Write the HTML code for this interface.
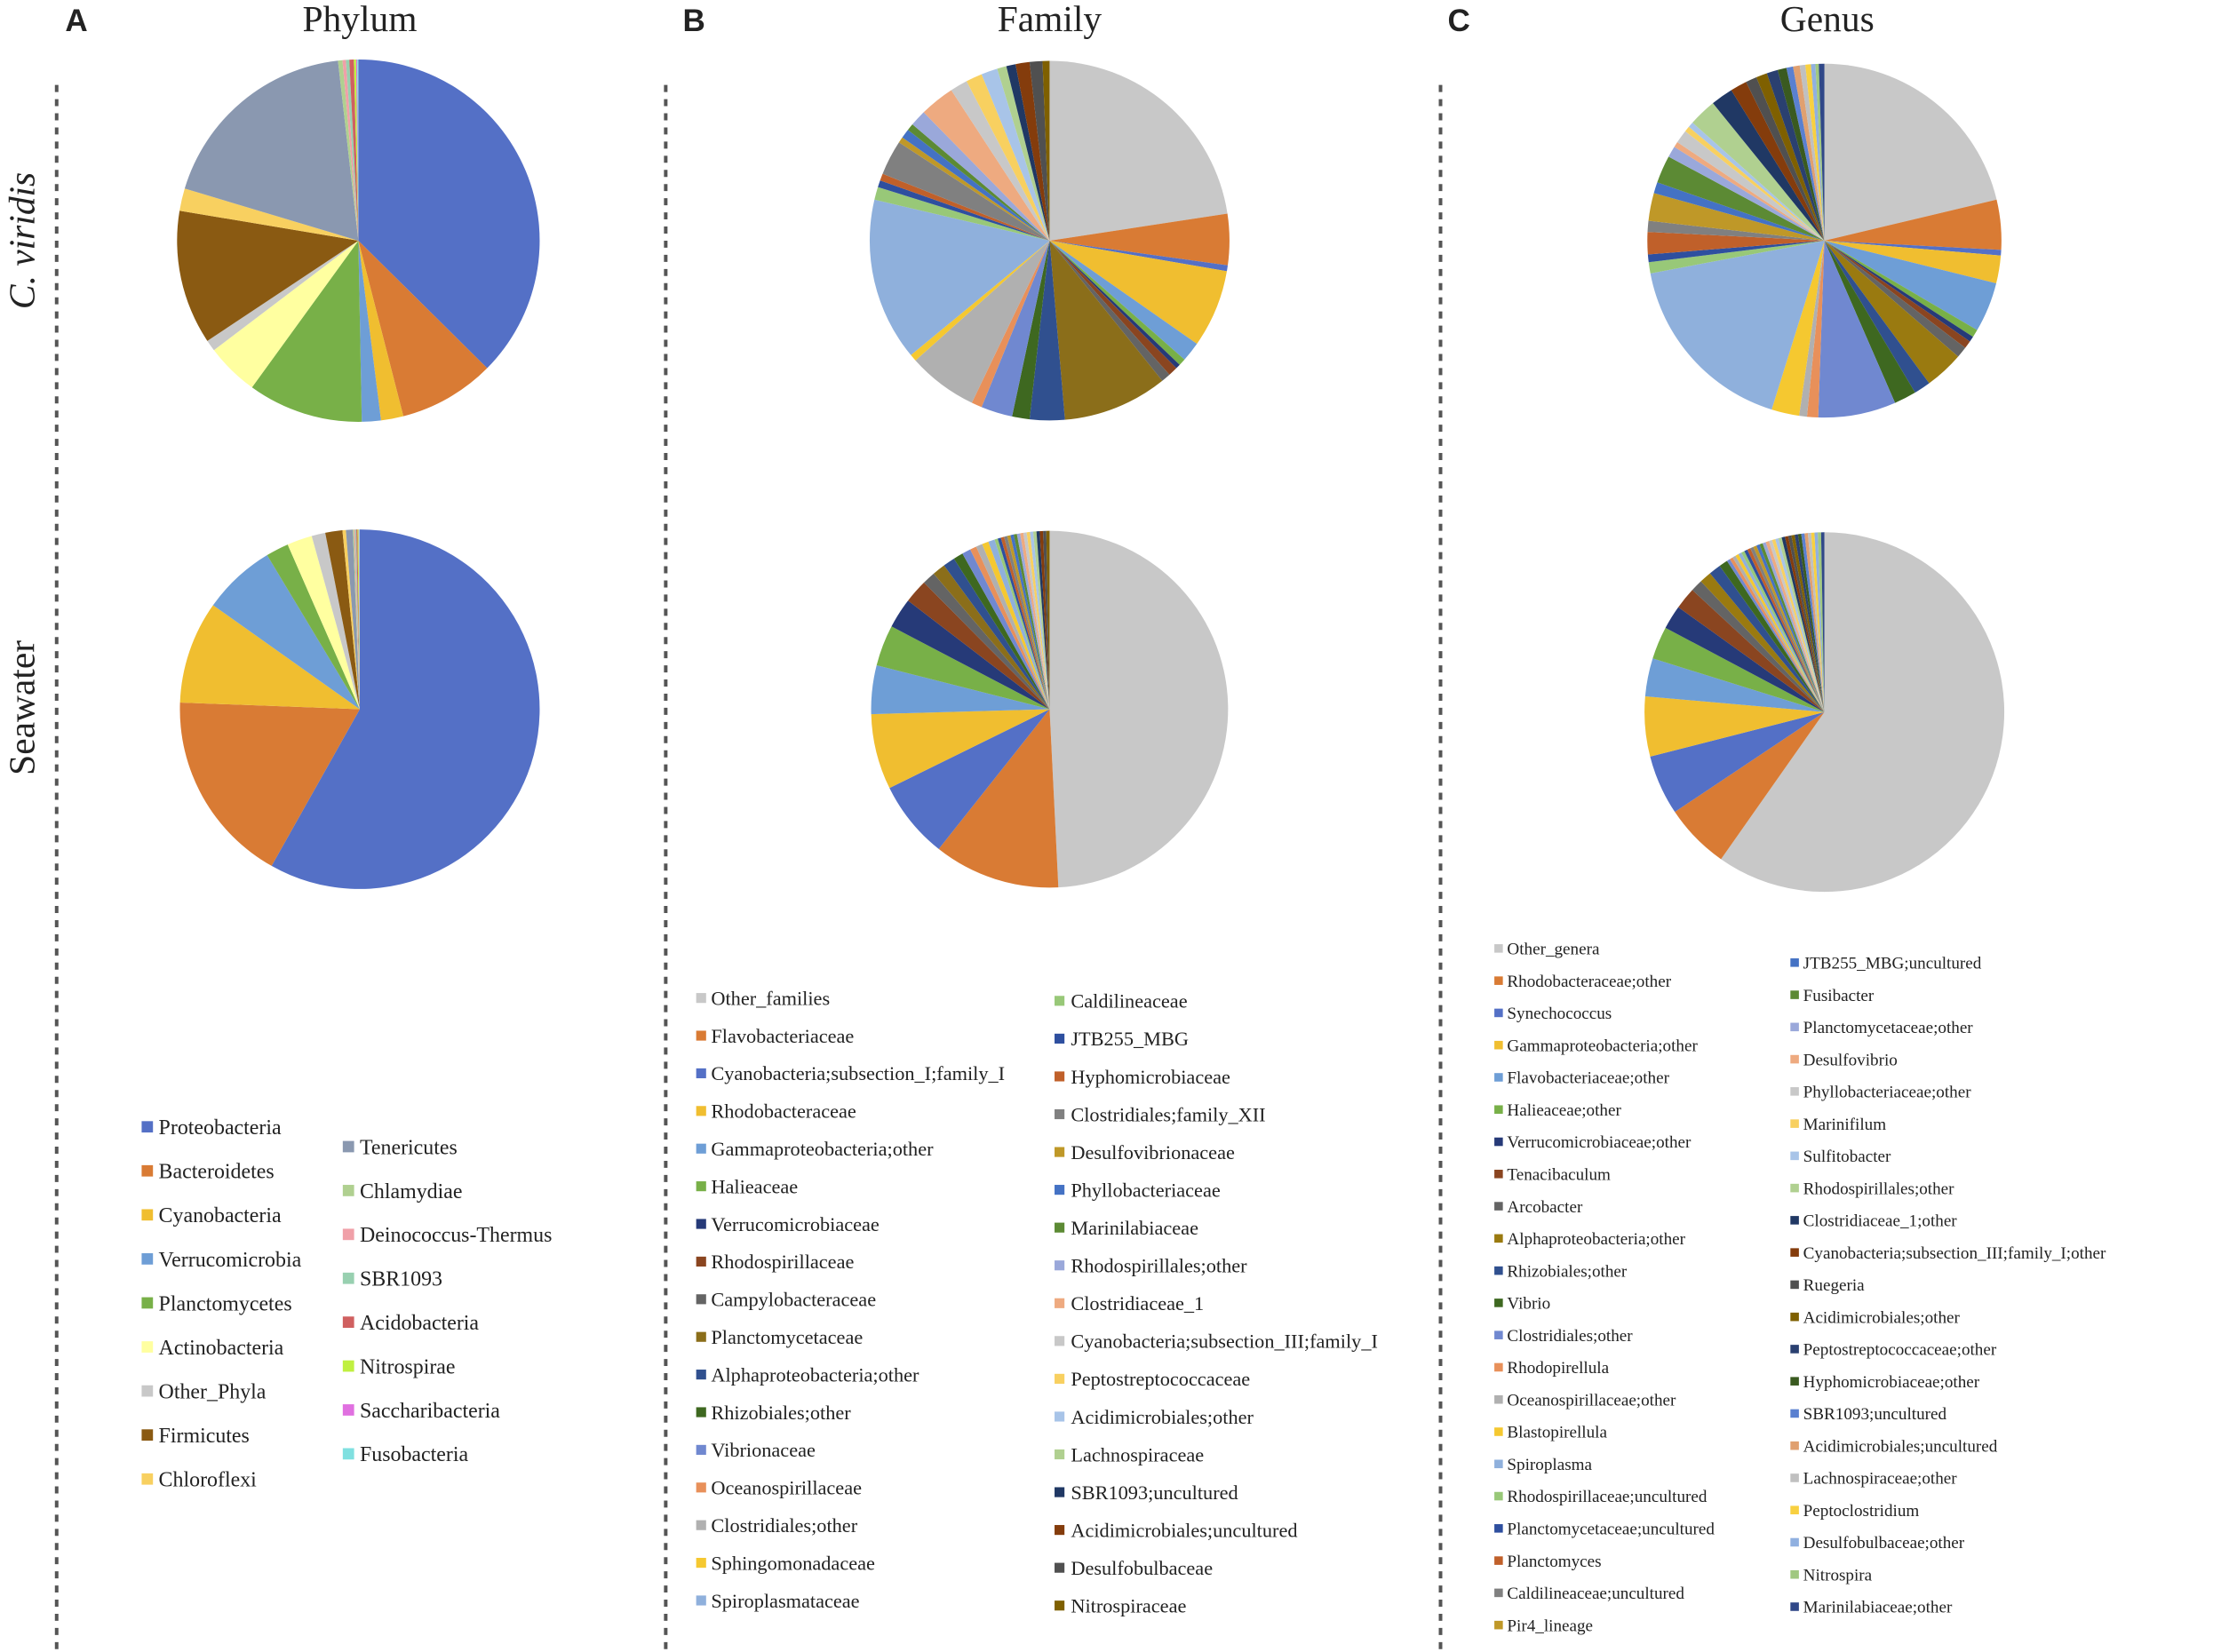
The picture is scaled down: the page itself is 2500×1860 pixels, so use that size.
<!DOCTYPE html>
<html><head><meta charset="utf-8"><style>
html,body{margin:0;padding:0;background:#fff}
svg{display:block}
text{font-family:"Liberation Serif",serif;fill:#222}
</style></head><body>
<svg id="chart" width="2500" height="1860" viewBox="0 0 1568 1167" preserveAspectRatio="none" xmlns="http://www.w3.org/2000/svg">
<rect width="1568" height="1167" fill="#fff"/>
<g>
<text x="46" y="22" font-size="22" font-weight="bold" style="font-family:'Liberation Sans',sans-serif">A</text>
<text x="254" y="22" font-size="26" text-anchor="middle">Phylum</text>
<text x="482" y="22" font-size="22" font-weight="bold" style="font-family:'Liberation Sans',sans-serif">B</text>
<text x="741" y="22" font-size="26" text-anchor="middle">Family</text>
<text x="1022" y="22" font-size="22" font-weight="bold" style="font-family:'Liberation Sans',sans-serif">C</text>
<text x="1290" y="22" font-size="26" text-anchor="middle">Genus</text>
</g>
<g>
<text transform="translate(24,170) rotate(-90)" font-size="26" font-style="italic" text-anchor="middle">C. viridis</text>
<text transform="translate(24,500) rotate(-90)" font-size="26" text-anchor="middle">Seawater</text>
</g>
<g stroke="#555" stroke-width="2.5" stroke-dasharray="5,5">
<line x1="40" y1="60" x2="40" y2="1167"/>
<line x1="470" y1="60" x2="470" y2="1167"/>
<line x1="1017" y1="60" x2="1017" y2="1167"/>
</g>
<g id="pies"></g>
<g id="legends"></g>
</svg>
<script>
const phylumNames=["Proteobacteria","Bacteroidetes","Cyanobacteria","Verrucomicrobia","Planctomycetes","Actinobacteria","Other_Phyla","Firmicutes","Chloroflexi","Tenericutes","Chlamydiae","Deinococcus-Thermus","SBR1093","Acidobacteria","Nitrospirae","Saccharibacteria","Fusobacteria"];
const phylumCv=[37.5,8.6,2,1.7,10.3,4.7,1,12,2,18.6,0.4,0.3,0.3,0.4,0.2,0.1,0.1];
const phylumSw=[56.7,17,9,6.4,2,2.2,1.2,1.5,0.3,0.6,0.1,0.1,0.1,0.1,0.1,0.05,0.05];
const phylumColors=["#5470C6","#D97B34","#F0BE30","#6E9ED6","#78B048","#FFFFA0","#C8C8C8","#8A5A12","#F8D060","#8A98B0","#B0D090","#F0A0A8","#98D0B0","#D06060","#C0F040","#E070E0","#80E0E0"];

const familyNames=["Other_families","Flavobacteriaceae","Cyanobacteria;subsection_I;family_I","Rhodobacteraceae","Gammaproteobacteria;other","Halieaceae","Verrucomicrobiaceae","Rhodospirillaceae","Campylobacteraceae","Planctomycetaceae","Alphaproteobacteria;other","Rhizobiales;other","Vibrionaceae","Oceanospirillaceae","Clostridiales;other","Sphingomonadaceae","Spiroplasmataceae","Caldilineaceae","JTB255_MBG","Hyphomicrobiaceae","Clostridiales;family_XII","Desulfovibrionaceae","Phyllobacteriaceae","Marinilabiaceae","Rhodospirillales;other","Clostridiaceae_1","Cyanobacteria;subsection_III;family_I","Peptostreptococcaceae","Acidimicrobiales;other","Lachnospiraceae","SBR1093;uncultured","Acidimicrobiales;uncultured","Desulfobulbaceae","Nitrospiraceae"];
const familyCv=[21.6,4.4,0.5,6.7,1.7,0.6,0.4,0.8,0.8,9,3,1.5,2.7,0.9,6,0.6,14,1.1,0.6,0.6,3,0.5,0.8,0.6,1.4,3,1.5,1.4,1.4,0.8,0.8,1.2,1.1,0.6];
const familySw=[50.3,11.7,7.2,7,4.5,3.8,2.8,2.2,1.2,1.2,1.1,0.9,0.8,0.6,0.6,0.6,0.6,0.3,0.3,0.3,0.3,0.3,0.3,0.3,0.3,0.3,0.3,0.3,0.3,0.3,0.3,0.3,0.3,0.3];
const familyColors=["#C8C8C8","#D97B34","#5470C6","#F0BE30","#6E9ED6","#78B048","#263A78","#8A4520","#646464","#8B6E1A","#30508F","#3E6820","#7088D0","#E8905A","#B0B0B0","#F5C830","#8FB0DC","#98C878","#2E4F9F","#C0602A","#808080","#BF9828","#4472C4","#5C8A34","#9AA8DA","#EEAA80","#C8C8C8","#F8D060","#A8C4E8","#B0D090","#203864","#843C0C","#505050","#7F6000"];

const genusNames=["Other_genera","Rhodobacteraceae;other","Synechococcus","Gammaproteobacteria;other","Flavobacteriaceae;other","Halieaceae;other","Verrucomicrobiaceae;other","Tenacibaculum","Arcobacter","Alphaproteobacteria;other","Rhizobiales;other","Vibrio","Clostridiales;other","Rhodopirellula","Oceanospirillaceae;other","Blastopirellula","Spiroplasma","Rhodospirillaceae;uncultured","Planctomycetaceae;uncultured","Planctomyces","Caldilineaceae;uncultured","Pir4_lineage","JTB255_MBG;uncultured","Fusibacter","Planctomycetaceae;other","Desulfovibrio","Phyllobacteriaceae;other","Marinifilum","Sulfitobacter","Rhodospirillales;other","Clostridiaceae_1;other","Cyanobacteria;subsection_III;family_I;other","Ruegeria","Acidimicrobiales;other","Peptostreptococcaceae;other","Hyphomicrobiaceae;other","SBR1093;uncultured","Acidimicrobiales;uncultured","Lachnospiraceae;other","Peptoclostridium","Desulfobulbaceae;other","Nitrospira","Marinilabiaceae;other"];
const genusCv=[21,4.5,0.5,2.5,4.5,0.7,0.5,0.7,1,3.5,1.5,2,7,1,0.7,2.5,17,1,0.7,2,1,2.5,1,2.5,1,0.5,1.2,0.5,0.5,2.5,2,1.5,1,1,1,0.8,0.6,0.6,0.5,0.5,0.4,0.3,0.5];
const genusSw=[61,6,5.5,5.5,3.5,3,2.2,2,1.1,1.1,1.1,0.8,0.3,0.3,0.3,0.3,0.3,0.3,0.3,0.3,0.3,0.3,0.3,0.3,0.3,0.3,0.3,0.3,0.3,0.3,0.3,0.3,0.3,0.3,0.3,0.3,0.3,0.3,0.3,0.3,0.3,0.3,0.3];
const genusColors=["#C8C8C8","#D97B34","#5470C6","#F0BE30","#6E9ED6","#78B048","#263A78","#8A4520","#646464","#9A7A10","#30508F","#3E6820","#7088D0","#E8905A","#B0B0B0","#F5C830","#8FB0DC","#98C878","#2E4F9F","#C0602A","#808080","#BF9828","#4472C4","#5C8A34","#9AA8DA","#EEAA80","#C8C8C8","#F8D060","#A8C4E8","#B0D090","#203864","#843C0C","#505050","#7F6000","#2A4070","#3A5A20","#5A80D0","#E0A070","#C0C0C0","#F8D040","#90B0E0","#A0C880","#304888"];

const NS="http://www.w3.org/2000/svg";
const pies=document.getElementById('pies');
const legends=document.getElementById('legends');

function drawPie(cx,cy,r,values,names,colors,pieName){
  const g=document.createElementNS(NS,'g');
  
  
  const total=values.reduce((a,b)=>a+b,0);
  let a0=0;
  values.forEach((v,i)=>{
    const a1=a0+v/total*2*Math.PI;
    const x0=cx+r*Math.sin(a0),y0=cy-r*Math.cos(a0);
    const x1=cx+r*Math.sin(a1),y1=cy-r*Math.cos(a1);
    const large=(a1-a0)>Math.PI?1:0;
    const p=document.createElementNS(NS,'path');
    p.setAttribute('d',`M${cx},${cy}L${x0},${y0}A${r},${r} 0 ${large} 1 ${x1},${y1}Z`);
    p.setAttribute('fill',colors[i]);
    
    
    g.appendChild(p);
    a0=a1;
  });
  pies.appendChild(g);
}
drawPie(253,170,128,phylumCv,phylumNames,phylumColors,'pie-phylum-c-viridis');
drawPie(254,501,127,phylumSw,phylumNames,phylumColors,'pie-phylum-seawater');
drawPie(741,170,127,familyCv,familyNames,familyColors,'pie-family-c-viridis');
drawPie(741,501,126,familySw,familyNames,familyColors,'pie-family-seawater');
drawPie(1288,170,125,genusCv,genusNames,genusColors,'pie-genus-c-viridis');
drawPie(1288,503,127,genusSw,genusNames,genusColors,'pie-genus-seawater');

function drawLegend(names,colors,split,cols,legendName,fs,ms){
  const g=document.createElementNS(NS,'g');
  
  
  names.forEach((n,i)=>{
    const c=i<split?cols[0]:cols[1];
    const k=i<split?i:i-split;
    const y=c.y0+k*c.dy;
    const e=document.createElementNS(NS,'g');
    
    
    const r=document.createElementNS(NS,'rect');
    r.setAttribute('x',c.mx-ms/2);r.setAttribute('y',y-ms/2);
    r.setAttribute('width',ms);r.setAttribute('height',ms);
    r.setAttribute('fill',colors[i]);
    e.appendChild(r);
    const t=document.createElementNS(NS,'text');
    t.setAttribute('x',c.tx);t.setAttribute('y',y+fs*0.35);
    t.setAttribute('font-size',fs);
    t.textContent=n;
    e.appendChild(t);
    g.appendChild(e);
  });
  legends.appendChild(g);
}
drawLegend(phylumNames,phylumColors,9,[{mx:104,tx:112,y0:796,dy:31.1},{mx:246,tx:254,y0:810,dy:31}],'legend-phylum',15,8);
drawLegend(familyNames,familyColors,17,[{mx:495,tx:502,y0:705,dy:26.6},{mx:748,tx:756,y0:707,dy:26.7}],'legend-family',14,7);
drawLegend(genusNames,genusColors,22,[{mx:1058,tx:1064,y0:670,dy:22.76},{mx:1267,tx:1273,y0:680,dy:22.75}],'legend-genus',12,6);
</script>
</body></html>
